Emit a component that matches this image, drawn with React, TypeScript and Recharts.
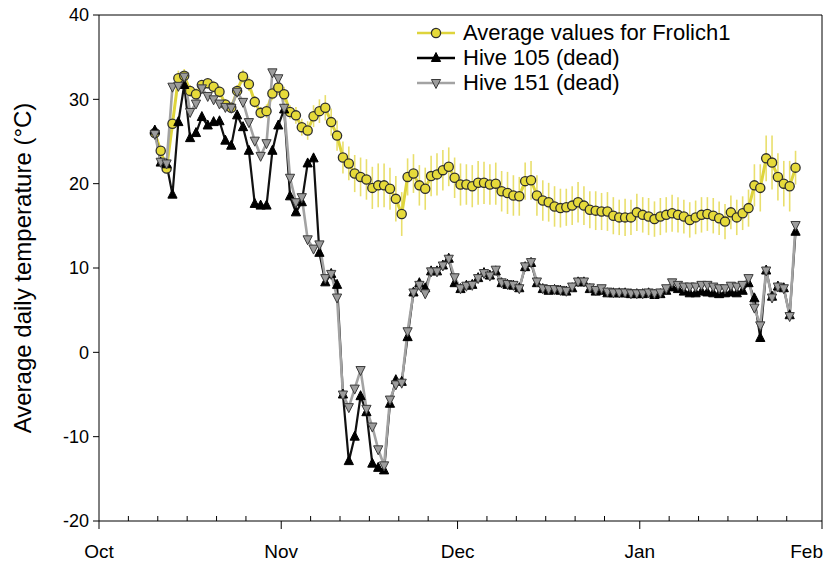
import React from "react";
import { ComposedChart, Line, XAxis, YAxis, ErrorBar, ReferenceLine, Legend } from "recharts";

// x axis: days since Oct 1
const monthTicks = [0, 31, 61, 92, 123];
const monthLabels = ["Oct", "Nov", "Dec", "Jan", "Feb"];
const minorTicks = [5, 10, 15, 20, 25, 36, 41, 46, 51, 56, 66, 71, 76, 81, 86, 97, 102, 107, 112, 117];
const yTicks = [-20, -10, 0, 10, 20, 30, 40];

// first reading is Oct 10 (midday), one value per day afterwards
const firstDay = 9.5;

const frolichMean = [
  26.0, 23.9, 21.8, 27.1, 32.5, 32.8, 31.0, 30.6, 31.7, 31.9,
  31.5, 30.9, 29.4, 29.0, 31.0, 32.7, 31.8, 29.7, 28.4, 28.6,
  30.7, 31.4, 30.6, 28.5, 28.1, 26.7, 26.3, 28.0, 28.6, 29.0,
  27.3, 25.7, 23.1, 22.4, 21.2, 20.8, 20.5, 19.5, 19.8, 19.8,
  19.4, 18.2, 16.4, 20.8, 21.2, 19.8, 19.4, 20.9, 21.1, 21.6,
  22.0, 20.7, 19.9, 19.9, 19.7, 20.1, 20.1, 19.9, 20.0, 19.1,
  18.9, 18.6, 18.5, 20.3, 20.4, 18.6, 18.0, 17.8, 17.3, 17.1,
  17.2, 17.4, 17.8, 17.4, 16.9, 16.8, 16.7, 16.7, 16.2, 16.0,
  16.0, 16.0, 16.6, 16.3, 16.1, 15.8, 16.1, 16.3, 16.5, 16.3,
  16.1, 15.7, 16.0, 16.3, 16.4, 16.2, 15.9, 15.5, 16.6, 16.0,
  16.5, 17.1, 19.8, 19.5, 23.0, 22.5, 20.8, 20.0, 19.7, 21.9,
];

const frolichErr = [
  0.5, 0.5, 0.6, 0.8, 0.9, 0.8, 0.7, 0.7, 0.6, 0.6,
  0.7, 0.7, 0.6, 0.6, 0.7, 0.8, 0.8, 0.7, 0.7, 0.8,
  0.8, 0.9, 0.9, 0.8, 1.0, 1.0, 1.1, 1.3, 1.4, 1.5,
  1.6, 1.8, 1.9, 2.0, 2.2, 2.3, 2.4, 2.5, 2.6, 2.6,
  2.5, 2.7, 2.6, 2.2, 2.3, 2.4, 2.5, 2.4, 2.5, 2.4,
  2.3, 2.4, 2.5, 2.4, 2.5, 2.6, 2.5, 2.4, 2.5, 2.4,
  2.5, 2.4, 2.3, 2.2, 2.3, 2.4, 2.4, 2.3, 2.4, 2.3,
  2.2, 2.3, 2.4, 2.3, 2.2, 2.3, 2.2, 2.3, 2.2, 2.1,
  2.2, 2.1, 2.2, 2.1, 2.2, 2.1, 2.2, 2.1, 2.2, 2.1,
  2.0, 2.1, 2.0, 2.1, 2.0, 2.1, 2.0, 2.1, 2.0, 2.1,
  2.0, 2.2, 2.5, 2.8, 2.7, 3.2, 2.8, 2.7, 3.0, 2.0,
];

const hive105 = [
  26.3, 22.5, 22.3, 18.7, 27.3, 31.7, 25.4, 26.0, 27.9, 26.9,
  27.3, 27.4, 25.1, 24.5, 28.1, 26.7, 23.9, 17.6, 17.4, 17.4,
  23.9, 26.9, 28.8, 18.5, 16.6, 17.8, 22.4, 23.0, 11.8, 8.3,
  9.3, 8.0, -5.0, -12.9, -10.0, -5.2, -7.1, -13.2, -13.7, -14.0,
  -6.1, -3.3, -3.5, 1.8, 7.1, 8.2, 7.6, 9.6, 9.6, 10.3,
  11.1, 8.2, 7.5, 7.9, 8.0, 8.8, 9.4, 9.1, 9.6, 8.2,
  8.0, 7.9, 7.6, 10.1, 10.6, 8.2, 7.5, 7.3, 7.4, 7.3,
  7.2, 7.6, 8.3, 8.3, 7.5, 7.2, 7.3, 7.0, 7.0, 7.0,
  7.0, 6.9, 6.9, 6.9, 7.0, 6.8, 6.9, 7.3, 7.7, 7.5,
  7.2, 7.0, 7.0, 7.2, 7.1, 7.0, 6.9, 7.0, 7.1, 7.0,
  7.3, 8.2, 6.4, 1.7, 9.7, 6.6, 7.8, 7.6, 4.4, 14.3,
];

const hive151 = [
  25.9, 22.6, 22.4, 31.5, 31.6, 32.7, 28.5, 29.5, 31.3, 30.4,
  30.0, 29.5, 29.1, 29.0, 30.9, 29.7, 27.3, 25.1, 23.3, 24.8,
  33.2, 32.5, 29.0, 20.7, 17.8, 18.4, 13.4, 12.3, 12.8, 8.8,
  9.3, 6.5, -5.0, -6.5, -4.3, -2.1, -6.7, -8.8, -11.5, -13.4,
  -5.6, -3.8, -3.6, 2.5, 7.1, 8.0, 7.0, 9.6, 9.6, 10.3,
  11.1, 8.9, 7.6, 7.9, 8.0, 8.8, 9.4, 9.1, 9.8, 8.3,
  8.1, 8.0, 7.6, 10.2, 10.7, 8.4, 7.6, 7.5, 7.5, 7.4,
  7.3, 7.8, 8.4, 8.4, 7.7, 7.4, 7.6, 7.2, 7.1, 7.1,
  7.1, 7.0, 7.0, 7.0, 7.1, 7.0, 7.1, 7.6, 8.3, 8.0,
  7.8, 7.8, 7.8, 8.0, 8.0, 7.8, 7.6, 7.6, 7.9, 7.8,
  8.0, 8.8, 5.3, 3.2, 9.7, 6.5, 7.8, 7.6, 4.3, 15.1,
];

const data = frolichMean.map((v, i) => ({
  day: firstDay + i,
  mean: v,
  err: frolichErr[i],
  h105: hive105[i],
  h151: hive151[i],
}));

const FONT = "'Liberation Sans', Arial, sans-serif";
const YELLOW = "#ded43c";
const YELLOW_DOT = "#e6da3a";
const YELLOW_ERR = "#e9df6c";
const GRAY = "#a3a3a3";
const GRAY_DOT = "#9c9c9c";

const CircleDot = (props: any) => (
  <circle key={props.index} cx={props.cx} cy={props.cy} r={4.6} fill={YELLOW_DOT} stroke="#2e2e2e" strokeWidth={1.3} />
);

const UpDot = (props: any) => {
  const { cx, cy } = props;
  return (
    <polygon
      key={props.index}
      points={`${cx},${cy - 5.5} ${cx - 4.6},${cy + 3.5} ${cx + 4.6},${cy + 3.5}`}
      fill="#000"
      stroke="#000"
      strokeWidth={1}
    />
  );
};

const DownDot = (props: any) => {
  const { cx, cy } = props;
  return (
    <polygon
      key={props.index}
      points={`${cx - 4.6},${cy - 3.5} ${cx + 4.6},${cy - 3.5} ${cx},${cy + 5.5}`}
      fill={GRAY_DOT}
      stroke="#3a3a3a"
      strokeWidth={1}
    />
  );
};

const TICK_SIZE = 8;
const TICK_MARGIN = 14;

const DayTick = (props: any) => {
  const { x, y, payload } = props;
  const axisY = y - TICK_SIZE - TICK_MARGIN;
  const idx = monthTicks.indexOf(payload.value);
  if (idx < 0) {
    return <line x1={x} x2={x} y1={axisY} y2={axisY - 5} stroke="#000" strokeWidth={1} />;
  }
  const last = idx === monthTicks.length - 1;
  return (
    <g>
      <line x1={x} x2={x} y1={axisY} y2={axisY + TICK_SIZE} stroke="#000" strokeWidth={1} />
      <text
        x={last ? x + 1 : x}
        y={axisY + 37}
        textAnchor={last ? "end" : "middle"}
        fontSize={19}
        fontFamily={FONT}
        fill="#000"
      >
        {monthLabels[idx]}
      </text>
    </g>
  );
};

const legendItems = [
  { label: "Average values for Frolich1", color: YELLOW, marker: "circle" },
  { label: "Hive 105 (dead)", color: "#000", marker: "up" },
  { label: "Hive 151 (dead)", color: GRAY, marker: "down" },
];

const renderLegend = () => (
  <div style={{ fontFamily: FONT, fontSize: 22, color: "#000" }}>
    {legendItems.map((it) => (
      <div key={it.label} style={{ display: "flex", alignItems: "center", height: 25 }}>
        <svg width={38} height={14} style={{ marginRight: 8 }}>
          <line x1={0} x2={38} y1={7} y2={7} stroke={it.color} strokeWidth={2.5} />
          {it.marker === "circle" && <CircleDot cx={19} cy={7} />}
          {it.marker === "up" && <UpDot cx={19} cy={7} />}
          {it.marker === "down" && <DownDot cx={19} cy={7} />}
        </svg>
        <span>{it.label}</span>
      </div>
    ))}
  </div>
);

export default function App() {
  return (
    <div style={{ position: "absolute", left: 0, top: 0, width: 836, height: 566 }}>
      <ComposedChart width={836} height={566} data={data} margin={{ top: 15, right: 14, bottom: 0, left: 0 }}>
        <XAxis
          dataKey="day"
          type="number"
          domain={[0, 123]}
          ticks={[...monthTicks, ...minorTicks].sort((a, b) => a - b)}
          interval={0}
          tickLine={false}
          tickSize={TICK_SIZE}
          tickMargin={TICK_MARGIN}
          tick={<DayTick />}
          height={45}
          axisLine={{ stroke: "#000", strokeWidth: 1 }}
        />
        <YAxis
          type="number"
          domain={[-20, 40]}
          ticks={yTicks}
          interval={0}
          width={99}
          tickSize={6}
          tickMargin={4}
          tickLine={{ stroke: "#000" }}
          axisLine={{ stroke: "#000", strokeWidth: 1 }}
          tick={{ fontSize: 18, fontFamily: FONT, fill: "#000" }}
          label={{
            content: () => (
              <text
                x={22}
                y={268}
                transform="rotate(-90 22 268)"
                textAnchor="middle"
                dominantBaseline="central"
                fontSize={24}
                fontFamily={FONT}
                fill="#000"
              >
                Average daily temperature (°C)
              </text>
            ),
          }}
        />
        <ReferenceLine y={40} stroke="#000" strokeWidth={1} />
        <ReferenceLine x={123} stroke="#000" strokeWidth={1} />
        <Legend
          layout="vertical"
          align="center"
          verticalAlign="middle"
          content={renderLegend}
          wrapperStyle={{ left: 417, top: 20, width: 390, height: 80 }}
        />
        <Line
          dataKey="mean"
          stroke={YELLOW}
          strokeWidth={3}
          dot={<CircleDot />}
          activeDot={false}
          isAnimationActive={false}
        >
          <ErrorBar dataKey="err" direction="y" width={0} stroke={YELLOW_ERR} strokeWidth={1.6} isAnimationActive={false} />
        </Line>
        <Line
          dataKey="h105"
          stroke="#111"
          strokeWidth={2.2}
          dot={<UpDot />}
          activeDot={false}
          isAnimationActive={false}
        />
        <Line
          dataKey="h151"
          stroke={GRAY}
          strokeWidth={2.6}
          dot={<DownDot />}
          activeDot={false}
          isAnimationActive={false}
        />
      </ComposedChart>
    </div>
  );
}
